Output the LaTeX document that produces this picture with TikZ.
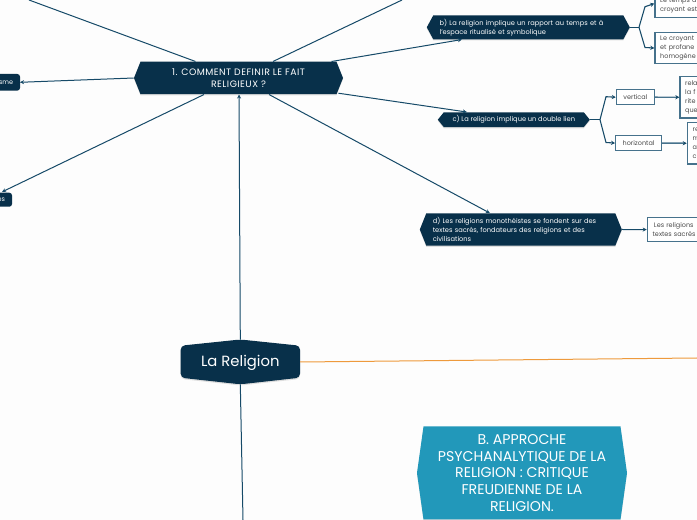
\documentclass[tikz,border=0pt]{standalone}
\usepackage{fontspec}
\setmainfont{Poppins}
\newfontfamily\spaced[LetterSpace=5]{Poppins}
\usetikzlibrary{arrows.meta,calc}
\definecolor{navy}{HTML}{08304A}
\definecolor{linkc}{HTML}{164A68}
\definecolor{boxb}{HTML}{46728C}
\definecolor{teal}{HTML}{2298BA}
\definecolor{ink}{HTML}{4A4A4A}
\definecolor{orangeL}{HTML}{EE9A3C}
\definecolor{pagebg}{HTML}{FDFDFD}
\tikzset{
  link/.style={draw=linkc,line width=0.75pt,-{Stealth[length=3pt,width=3pt]}},
  branch/.style={draw=linkc,line width=0.8pt,-{Stealth[length=3pt,width=3.2pt]}},
  stub/.style={draw=linkc,line width=1.1pt},
  hexlabel/.style={inner sep=0pt,text=white,align=center},
  leftlabel/.style={inner sep=0pt,text=white,align=left},
  leaf/.style={draw=boxb,line width=0.9pt,fill=white,text=ink,inner sep=0pt,align=left,anchor=north west},
  fsmall/.style={font=\fontsize{4.85}{6.6}\selectfont},
  fhex/.style={font=\fontsize{5}{6.7}\selectfont},
  froot/.style={font=\spaced\fontsize{7}{9}\selectfont},
  fmain/.style={font=\fontsize{11.1}{12}\selectfont},
  fbig/.style={font=\fontsize{10.6}{12.4}\selectfont},
}
% name, cx, cy, half width of top edge, tip length, height, fill, style, text
\newcommand{\hexnode}[9]{%
  \fill[black,opacity=.12] ({#2-#4-#5},{#3+1.2}) -- ({#2-#4},{#3-#6/2+1.2}) -- ({#2+#4},{#3-#6/2+1.2}) -- ({#2+#4+#5},{#3+1.2}) -- ({#2+#4},{#3+#6/2+1.2}) -- ({#2-#4},{#3+#6/2+1.2}) -- cycle;
  \fill[#7] ({#2-#4-#5},#3) -- ({#2-#4},{#3-#6/2}) -- ({#2+#4},{#3-#6/2}) -- ({#2+#4+#5},#3) -- ({#2+#4},{#3+#6/2}) -- ({#2-#4},{#3+#6/2}) -- cycle;
  \node[#8,minimum width={(2*#4+2*#5)*0.75pt},minimum height={#6*0.75pt}] (#1) at (#2,#3) {#9};
}
\begin{document}
\begin{tikzpicture}[x=0.75pt,y=-0.75pt]
\useasboundingbox (0,0) rectangle (697,520);
\clip (0,0) rectangle (697,520);
\fill[pagebg] (0,0) rectangle (697,520);

% free ends of the cut-off connectors
\coordinate (offNW) at (29,0);
\coordinate (offNE) at (402,0);
\coordinate (offE) at (697,358);
\coordinate (offS) at (243,520);

% hexagonal nodes
\hexnode{root}{238.5}{78}{98}{6.5}{32.5}{navy}{hexlabel,froot}{1. COMMENT DEFINIR LE FAIT\\RELIGIEUX ?}
\hexnode{bn}{528.3}{27.3}{95}{6.5}{24}{navy}{leftlabel,fhex,text width=152pt}{\hspace*{9.5pt}b) La religion implique un rapport au temps et à\\\hspace*{9.5pt}l’espace ritualisé et symbolique}
\hexnode{cn}{513.8}{119.7}{70}{6}{14.8}{navy}{hexlabel,font=\fontsize{5}{6.6}\selectfont}{c) La religion implique un double lien}
\hexnode{dn}{520.8}{229.5}{94.5}{6.5}{32.4}{navy}{leftlabel,fhex,text width=151.5pt}{\hspace*{9.75pt}d) Les religions monothéistes se fondent sur des\\\hspace*{9.75pt}textes sacrés, fondateurs des religions et des\\\hspace*{9.75pt}civilisations}
\hexnode{bpsy}{522}{473}{98.5}{6.5}{93}{teal}{hexlabel,fbig}{B. APPROCHE\\PSYCHANALYTIQUE DE LA\\RELIGION : CRITIQUE\\FREUDIENNE DE LA\\RELIGION.}

% La Religion
\fill[black,opacity=.12,rounded corners=3pt] (180.7,347) -- (240.3,341) -- (300,347) -- (300,379) -- (240.3,385.5) -- (180.7,379) -- cycle;
\fill[navy,rounded corners=3pt] (180.7,345.7) -- (240.3,339.5) -- (300,345.7) -- (300,377.7) -- (240.3,384.3) -- (180.7,377.7) -- cycle;
\node[hexlabel,fmain,minimum width=89.5pt,minimum height=33pt] (rel) at (240.3,362) {\raisebox{-3.5pt}[0pt][0pt]{La Religion}};

% cut-off side nodes
\fill[navy,rounded corners=2pt] (-30,74) rectangle (20,90.6);
\node[hexlabel,fsmall,minimum height=12.4pt,anchor=east] (sme) at (20,82.3) {sme\hspace*{5pt}};
\fill[navy,rounded corners=2pt] (-30,192.7) rectangle (12,206.7);
\node[hexlabel,fsmall,minimum height=10.5pt,anchor=east] (esn) at (12,199.7) {es\hspace*{5pt}};

% leaf boxes
\node[leaf,fsmall,minimum width=60pt,minimum height=21pt,text width=60pt] (t1) at (654.3,-11) {\hspace*{4pt}\\\hspace*{4pt}Le temps d\\\hspace*{4pt}croyant est};
\node[leaf,fsmall,minimum width=60pt,minimum height=23.6pt,text width=60pt] (t2) at (654.3,31.7) {\hspace*{4pt}Le croyant\\\hspace*{4pt}et profane\\\hspace*{4pt}homogène};
\node[leaf,fsmall,minimum width=28.7pt,minimum height=11pt,align=center] (vert) at (615.7,89.3) {vertical};
\node[leaf,fsmall,minimum width=34.5pt,minimum height=11.2pt,align=center] (horz) at (615,135) {horizontal};
\node[leaf,fsmall,minimum width=40pt,minimum height=31pt,text width=40pt] (v1) at (679.3,76) {\hspace*{4pt}rela\\\hspace*{4pt}la f\\\hspace*{4pt}rite\\\hspace*{4pt}que};
\node[leaf,fsmall,minimum width=40pt,minimum height=31pt,text width=40pt] (h1) at (686.7,122) {\hspace*{4pt}re\\\hspace*{4pt}m\\\hspace*{4pt}a\\\hspace*{4pt}c};
\node[leaf,fsmall,minimum width=60pt,minimum height=17.5pt,text width=60pt] (d1) at (646.7,217.3) {\hspace*{5pt}Les religions\\\hspace*{4pt}textes sacrés};

% connectors from the root
\draw[linkc,line width=0.75pt] (offNW) -- ($(root.north)+(-43,0)$);
\draw[linkc,line width=0.75pt] (offNE) -- ($(root.north)+(34.5,0)$);
\draw[link] ($(root.north)+(93,0)$) -- ($(bn.south)+(-66.5,0)$);
\draw[link] ($(root.south)+(100,-1.3)$) -- ($(cn.north)+(-47,0)$);
\draw[link] ($(root.south)+(30.5,0)$) -- ($(dn.north)+(-31,0)$);
\draw[link] (root.west) -- (sme.east);
\draw[link] ($(root.south)+(-34.5,0)$) -- ($(esn.north east)+(-10,-.5)$);
\draw[link] (rel.north) -- ($(root.south)+(0.5,0)$);
\draw[orangeL,line width=0.75pt] (rel.east) -- (offE);
\draw[linkc,line width=0.75pt] (rel.south) -- (offS);

% branches
\coordinate (bj) at (639,27.3);
\coordinate (cj) at (600,119.7);
\draw[stub] (bn.east) -- (bj);
\draw[branch] (bj) -- (645,6.7) -- (t1.west);
\draw[branch] (bj) -- (645,47.5) -- (t2.west);
\draw[stub] (cn.east) -- (cj);
\draw[branch] (cj) -- (606,96.7) -- (vert.west);
\draw[branch] (cj) -- (606,142.5) -- (horz.west);
\draw[draw=boxb,line width=1.1pt,-{Stealth[length=3pt,width=3.2pt,color=linkc]}] (vert.east) -- (v1.west);
\draw[draw=boxb,line width=1.1pt,-{Stealth[length=3pt,width=3.2pt,color=linkc]}] (horz.east) -- (h1.west);
\draw[link] (dn.east) -- (d1.west);
\end{tikzpicture}
\end{document}
